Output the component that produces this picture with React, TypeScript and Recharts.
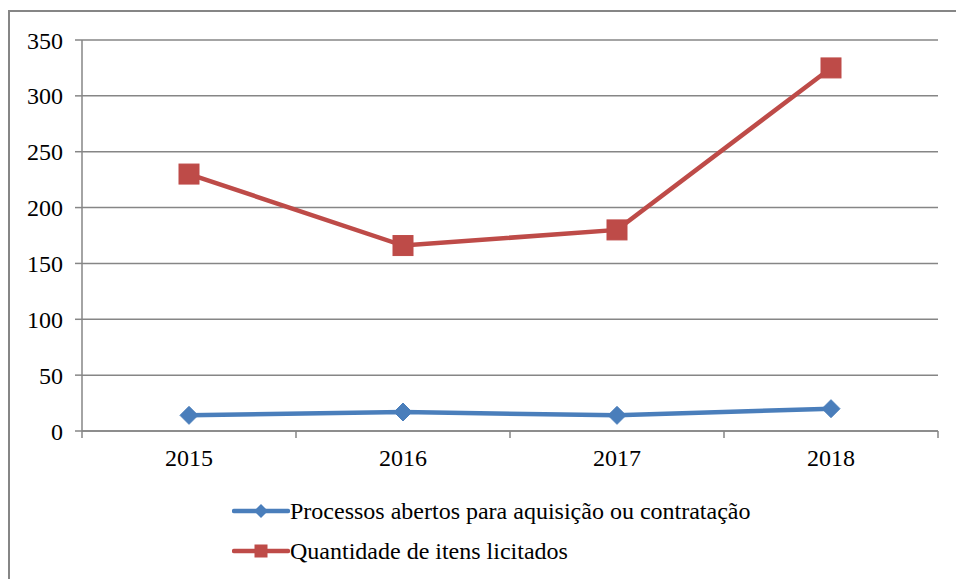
import { LineChart, Line, XAxis, YAxis, CartesianGrid } from 'recharts';

const years = ['2015', '2016', '2017', '2018'];
const processos = [14, 17, 14, 20];
const itens = [230, 166, 180, 325];
const yTicks = [0, 50, 100, 150, 200, 250, 300, 350];

const BLUE = '#4a7ebb';
const RED = '#be4b48';
const GRAY = '#868686';
const FONT = "'Times New Roman', 'Liberation Serif', 'DejaVu Serif', serif";
const FS = 24;

const data = years.map((year, i) => ({
  pos: i + 0.5,
  year,
  processos: processos[i],
  itens: itens[i],
}));

// boundaries between categories get a tick mark, centers get the label
const xTicks: number[] = [];
for (let i = 0; i <= years.length; i++) {
  xTicks.push(i);
  if (i < years.length) xTicks.push(i + 0.5);
}

function XTick(props: any) {
  const { x, y, payload } = props;
  const v = payload.value as number;
  if (Number.isInteger(v)) {
    return <line x1={x} y1={y} x2={x} y2={y + 7} stroke={GRAY} strokeWidth={1.5} />;
  }
  return (
    <text x={x} y={y + 18} dy="0.71em" textAnchor="middle" fill="#000" fontSize={FS} style={{ fontFamily: FONT }}>
      {years[Math.floor(v)]}
    </text>
  );
}

function YTick(props: any) {
  const { x, y, payload } = props;
  return (
    <text x={x} y={y} dy="0.355em" textAnchor="end" fill="#000" fontSize={FS} style={{ fontFamily: FONT }}>
      {payload.value}
    </text>
  );
}

function Diamond({ cx, cy, r }: { cx: number; cy: number; r: number }) {
  return <path d={`M${cx},${cy - r} L${cx + r},${cy} L${cx},${cy + r} L${cx - r},${cy} Z`} fill={BLUE} stroke={BLUE} />;
}

function Square({ cx, cy, s }: { cx: number; cy: number; s: number }) {
  return <rect x={cx - s / 2} y={cy - s / 2} width={s} height={s} fill={RED} stroke={RED} />;
}

const legendItems = [
  { name: 'Processos abertos para aquisição ou contratação', color: BLUE, marker: 'diamond' },
  { name: 'Quantidade de itens licitados', color: RED, marker: 'square' },
];

export default function App() {
  return (
    <div style={{ position: 'fixed', left: 0, top: 0, width: 956, height: 579, overflow: 'hidden', background: '#fff' }}>
      {/* frame: only the left and top edges show */}
      <div style={{ position: 'absolute', left: 8, top: 10, width: 2, height: 569, background: GRAY }} />
      <div style={{ position: 'absolute', left: 8, top: 10, width: 948, height: 2, background: GRAY }} />
      <div style={{ position: 'absolute', left: 8, top: 8 }}>
        <LineChart width={940} height={571} data={data} margin={{ top: 32, right: 10, bottom: 118, left: 0 }}>
          <CartesianGrid vertical={false} stroke={GRAY} strokeWidth={1.5} />
          <XAxis
            dataKey="pos"
            type="number"
            domain={[0, years.length]}
            ticks={xTicks}
            interval={0}
            tickSize={0}
            tickMargin={0}
            tickLine={false}
            tick={<XTick />}
            axisLine={{ stroke: GRAY, strokeWidth: 1.5 }}
            height={30}
          />
          <YAxis
            width={74}
            domain={[0, 350]}
            ticks={yTicks}
            interval={0}
            tickSize={7}
            tickMargin={12}
            tickLine={{ stroke: GRAY, strokeWidth: 1.5 }}
            axisLine={{ stroke: GRAY, strokeWidth: 1.5 }}
            tick={<YTick />}
          />
          <Line
            dataKey="processos"
            stroke={BLUE}
            strokeWidth={4.5}
            isAnimationActive={false}
            dot={(p: any) => <Diamond key={p.index} cx={p.cx} cy={p.cy} r={9} />}
          />
          <Line
            dataKey="itens"
            stroke={RED}
            strokeWidth={4.5}
            isAnimationActive={false}
            dot={(p: any) => <Square key={p.index} cx={p.cx} cy={p.cy} s={20} />}
          />
        </LineChart>
      </div>
      <div style={{ position: 'absolute', left: 232, top: 491, fontFamily: FONT, fontSize: FS, color: '#000', whiteSpace: 'nowrap' }}>
        {legendItems.map((it) => (
          <div key={it.name} style={{ display: 'flex', alignItems: 'center', height: 40 }}>
            <svg width={58} height={20}>
              <line x1={2} y1={10} x2={56} y2={10} stroke={it.color} strokeWidth={4.5} strokeLinecap="round" />
              {it.marker === 'diamond' ? (
                <path d="M29,3 L36,10 L29,17 L22,10 Z" fill={it.color} />
              ) : (
                <rect x={22.5} y={3.5} width={13} height={13} fill={it.color} />
              )}
            </svg>
            <span>{it.name}</span>
          </div>
        ))}
      </div>
    </div>
  );
}
